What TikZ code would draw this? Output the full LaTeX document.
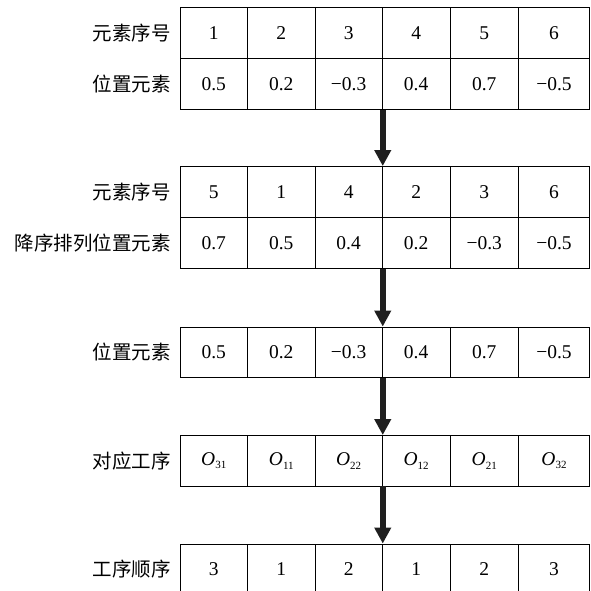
\documentclass[tikz,border=0pt]{standalone}
\usepackage{fontspec}
\setmainfont{Liberation Serif}
\newfontfamily\cjk{Noto Sans CJK SC}
\usetikzlibrary{arrows.meta}
\newcommand\Op[1]{\textit{O}\raisebox{-0.4ex}{\fontsize{11}{11}\selectfont #1}}
\def\cx{{213.75,281.25,348.65,416.15,484.25,554}}
\def\cw{{67.5,67.5,67.3,67.7,68.5,71}}
\newcommand\tabrow[4]{%
  \foreach \v [count=\i] in {#4} {%
    \pgfmathsetmacro\xx{\cx[\i-1]}%
    \pgfmathsetmacro\ww{\cw[\i-1]}%
    \node[cell, minimum width=\ww pt, minimum height=#3 pt] (#1\i) at (\xx,#2) {\v};
  }%
}
\begin{document}
\begin{tikzpicture}[x=1pt,y=-1pt,
  cell/.style={draw, line width=0.9pt, inner sep=0pt, anchor=center,
    font=\fontsize{19.5}{20}\selectfont},
  lbl/.style={anchor=east, inner sep=0pt, font=\cjk\fontsize{19.5}{20}\selectfont},
  flow/.style={draw=black!88, line width=5.5pt,
    -{Triangle[length=16pt,width=16pt]}}
]
\useasboundingbox (0,0) rectangle (590,591);
\clip (0,0) rectangle (590,591);

% table 1
\tabrow{ta}{32.9}{51.2}{1,2,3,4,5,6}
\tabrow{tb}{84}{51}{0.5,0.2,−0.3,0.4,0.7,−0.5}
\node[lbl] (la) at (171,32.9) {元素序号};
\node[lbl] (lb) at (171,84) {位置元素};

% table 2
\tabrow{sa}{192}{51}{5,1,4,2,3,6}
\tabrow{sb}{243}{51}{0.7,0.5,0.4,0.2,−0.3,−0.5}
\node[lbl] (lc) at (171,192) {元素序号};
\node[lbl] (ld) at (171,243) {降序排列位置元素};

% table 3
\tabrow{pa}{352.25}{50.5}{0.5,0.2,−0.3,0.4,0.7,−0.5}
\node[lbl] (le) at (171,352.25) {位置元素};

% table 4
\tabrow{oa}{460.75}{50.5}{\Op{31},\Op{11},\Op{22},\Op{12},\Op{21},\Op{32}}
\node[lbl] (lf) at (171,460.75) {对应工序};

% table 5
\tabrow{qa}{569.5}{51}{3,1,2,1,2,3}
\node[lbl] (lg) at (171,569.5) {工序顺序};

% arrows
\draw[flow] (tb3.south east) -- (sa3.north east);
\draw[flow] (sb3.south east) -- (pa3.north east);
\draw[flow] (pa3.south east) -- (oa3.north east);
\draw[flow] (oa3.south east) -- (qa3.north east);
\end{tikzpicture}
\end{document}
